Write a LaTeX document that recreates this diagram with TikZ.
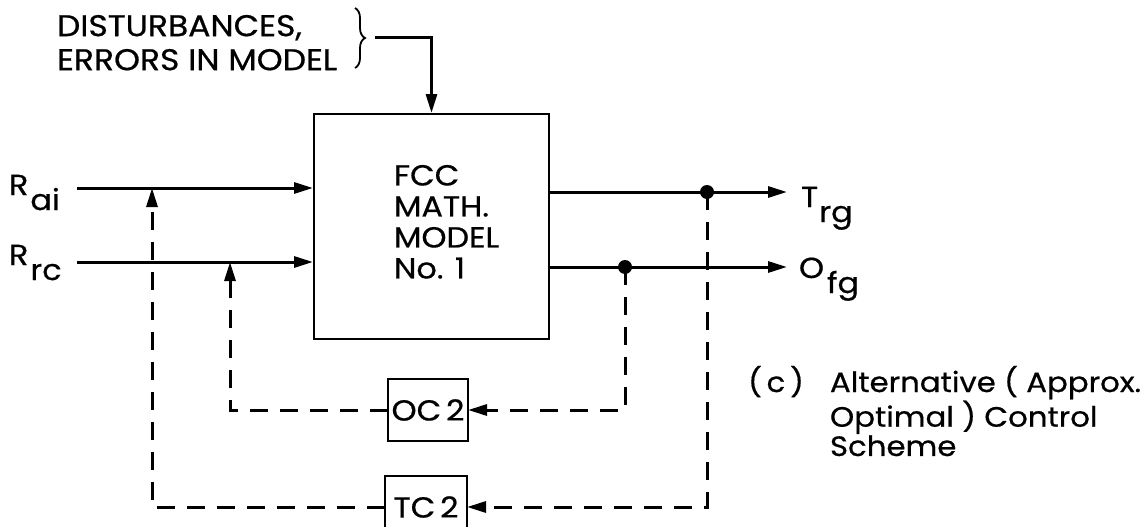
\documentclass[tikz,border=0pt]{standalone}
\usepackage{fontspec}
\setmainfont{Poppins}[FakeStretch=1.1,FakeBold=0.6]
\usetikzlibrary{arrows.meta,decorations.pathreplacing}
\begin{document}
\begin{tikzpicture}[x=1pt,y=-1pt,
  lbl/.style={font=\fontsize{29}{31}\selectfont, inner sep=0pt, outer sep=0pt},
  blk/.style={draw, line width=2pt, inner sep=0pt},
  tip/.style={-{Triangle[length=19pt,width=11pt]}},
  sig/.style={line width=3pt, tip},
  fb/.style={line width=3pt, dash pattern=on 18pt off 12pt, tip}]
\useasboundingbox (0,0) rectangle (1146,527);

% main block
\node[blk, minimum width=235pt, minimum height=225pt, anchor=north west] (model) at (313,113) {};
\node[lbl, align=left, anchor=north west] (mtext) at (394,165) {FCC\\MATH.\\MODEL\\No. 1};

% disturbances
\node[lbl, align=left, anchor=north west, font=\fontsize{30}{34}\selectfont] (dist) at (57,15) {DISTURBANCES,\\ERRORS IN MODEL};
\draw[line width=1.8pt, decorate, decoration={brace, amplitude=10pt}] (355,8) -- (355,68);
\coordinate (bt) at (375,38);
\draw[sig] (bt) -| (model.north);

% inputs
\node[lbl, anchor=base west] (rai) at (9,195) {R\hspace{2pt}\raisebox{-15pt}{ai}};
\node[lbl, anchor=base west] (rrc) at (9,265) {R\hspace{2pt}\raisebox{-15pt}{rc}};
\coordinate (ain) at (77,188);
\coordinate (rin) at (77,262);
\draw[sig] (ain) -- (model.west |- ain);
\draw[sig] (rin) -- (model.west |- rin);

% outputs
\coordinate (tout) at (787,192);
\coordinate (oout) at (787,267);
\draw[sig] (model.east |- tout) -- (tout);
\draw[sig] (model.east |- oout) -- (oout);
\node[lbl, anchor=base west] (trg) at (801,207) {T\hspace{1pt}\raisebox{-15pt}{rg}};
\node[lbl, anchor=base west] (ofg) at (799,278) {O\hspace{3pt}\raisebox{-15pt}{fg}};

% branch points
\coordinate (td) at (707,192);
\coordinate (od) at (625,267);
\fill (td) circle (7pt);
\fill (od) circle (7pt);

% controllers
\node[blk, lbl, draw, line width=2pt, minimum width=80pt, minimum height=62pt] (oc) at (428,410) {OC\,2};
\node[blk, lbl, draw, line width=2pt, minimum width=82pt, minimum height=62pt] (tc) at (426,507) {TC\,2};

\coordinate (ocup) at (230,262);
\coordinate (tcup) at (152,188);
\draw[fb] (od) |- (oc.east);
\draw[fb] (oc.west) -| (ocup);
\draw[fb] (td) |- (tc.east);
\draw[fb] (tc.west) -| (tcup);

% caption
\node[lbl, anchor=base west, font=\fontsize{28}{28.5}\selectfont] (cap) at (748,392)
  {\begin{tabular}[t]{@{}l@{\hspace{26pt}}l@{}}(\,c\,) & Alternative ( Approx.\\ & Optimal ) Control\\ & Scheme\end{tabular}};
\end{tikzpicture}
\end{document}
